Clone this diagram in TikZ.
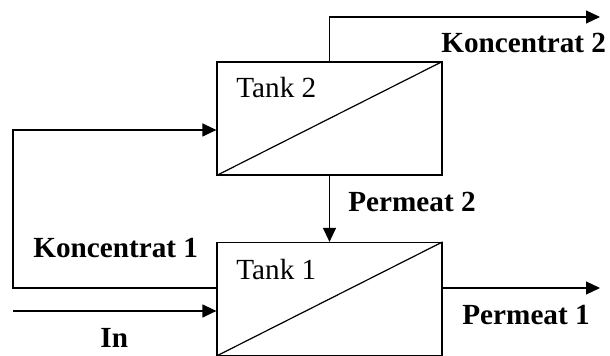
\documentclass[tikz,border=0pt]{standalone}
\usepackage{fontspec}
\setmainfont{Liberation Serif}
\usetikzlibrary{arrows.meta}
\tikzset{
  tank/.style={draw, line width=0.6pt, minimum width=112.5pt, minimum height=56.5pt, inner sep=0pt},
  flow/.style={line width=0.6pt, -{Triangle[length=7pt,width=6.5pt]}},
  lbl/.style={anchor=base west, inner sep=0pt, font=\fontsize{14.6}{17}\selectfont\bfseries},
  tanklbl/.style={anchor=base west, inner sep=0pt, font=\fontsize{14.6}{17}\selectfont}
}
\begin{document}
\begin{tikzpicture}[x=0.5pt, y=-0.5pt]
    \useasboundingbox (0,0) rectangle (610,356);

    \node[tank] (tank2) at (329.5,118.5) {};
    \node[tank] (tank1) at (329.5,299) {};
    \draw[line width=0.6pt] (tank2.south west) -- (tank2.north east);
    \draw[line width=0.6pt] (tank1.south west) -- (tank1.north east);
    \node[tanklbl] (t2name) at (236,98) {Tank 2};
    \node[tanklbl] (t1name) at (236,280) {Tank 1};

    \coordinate (k2end) at (600,17);
    \coordinate (k1low) at (13,288);
    \coordinate (k1high) at (13,130);
    \coordinate (p1end) at (600,288);
    \coordinate (inbeg) at (13,311);

    \draw[flow] (tank2.north) |- (k2end);
    \draw[flow] (tank1.west |- k1low) -- (k1low) -- (k1high) -- (tank2.west |- k1high);
    \draw[flow] (tank2.south) -- (tank1.north);
    \draw[flow] (tank1.east |- k1low) -- (p1end);
    \draw[flow] (inbeg) -- (tank1.west |- inbeg);

    \node[lbl] (k2lbl) at (441,53) {Koncentrat 2};
    \node[lbl] (p2lbl) at (348,212) {Permeat 2};
    \node[lbl] (k1lbl) at (33,258) {Koncentrat 1};
    \node[lbl] (inlbl) at (100,348) {In};
    \node[lbl] (p1lbl) at (462,325) {Permeat 1};
\end{tikzpicture}
\end{document}
